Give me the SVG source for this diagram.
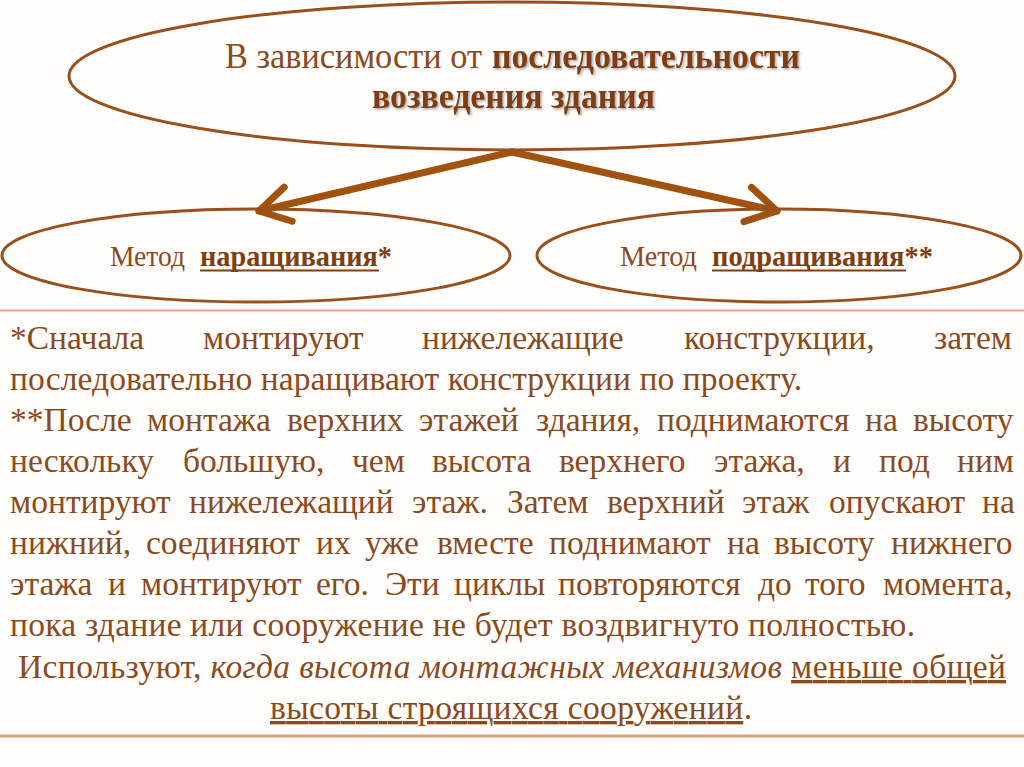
<svg xmlns="http://www.w3.org/2000/svg" width="1024" height="767" viewBox="0 0 1024 767">
<defs>
<style>
.ell{fill:none;stroke:#99501A;stroke-width:3}
.arr{fill:none;stroke:#A0520F;stroke-width:7;stroke-linecap:round;stroke-linejoin:round}
.body{font-family:"Liberation Serif","Times New Roman",serif;font-size:33.5px;fill:#8B4A1E}
.ttl{font-family:"Liberation Serif","Times New Roman",serif;font-size:35px;fill:#8B4A1E}
.lbl{font-family:"Liberation Serif","Times New Roman",serif;font-size:29px;fill:#8B4A1E}
.b{font-weight:bold;fill:#7E3E12}
.u{text-decoration:underline}
.i{font-style:italic}
.ul{stroke:#7E3E12;stroke-width:2}
</style>
<filter id="sh" x="-5%" y="-20%" width="110%" height="140%">
<feDropShadow dx="1.5" dy="1.5" stdDeviation="1" flood-color="#000" flood-opacity="0.35"/>
</filter>
<marker id="chev" markerUnits="userSpaceOnUse" orient="auto" refX="0" refY="0" markerWidth="80" markerHeight="80" viewBox="-40 -40 80 80" overflow="visible">
<path d="M-30,-17.5 L0,0 L-30,17.5" class="arr"/>
</marker>
</defs>
<rect width="1024" height="767" fill="#FFFEFC"/>

<g id="connectors">
<line class="arr" x1="512" y1="152" x2="259" y2="211" marker-end="url(#chev)"/>
<line class="arr" x1="512" y1="152" x2="777" y2="211" marker-end="url(#chev)"/>
</g>

<g id="node-top">
<ellipse class="ell" cx="512" cy="76" rx="443" ry="74"/>
<text class="ttl" x="225" y="68" textLength="257" lengthAdjust="spacingAndGlyphs">В зависимости от</text>
<text class="ttl b" x="492" y="68" textLength="308" lengthAdjust="spacingAndGlyphs" filter="url(#sh)">последовательности</text>
<text class="ttl b" x="372" y="108" textLength="283" lengthAdjust="spacingAndGlyphs" filter="url(#sh)">возведения здания</text>
</g>

<g id="node-left">
<ellipse class="ell" cx="256" cy="255.5" rx="254" ry="46.5"/>
<text class="lbl" x="110" y="266" textLength="75" lengthAdjust="spacingAndGlyphs">Метод</text>
<text class="lbl b" x="200" y="266" textLength="192" lengthAdjust="spacingAndGlyphs">наращивания*</text>
<line class="ul" x1="200" y1="270.5" x2="379" y2="270.5"/>
</g>

<g id="node-right">
<ellipse class="ell" cx="779" cy="255.5" rx="242" ry="46.5"/>
<text class="lbl" x="620" y="266" textLength="77" lengthAdjust="spacingAndGlyphs">Метод</text>
<text class="lbl b" x="712" y="266" textLength="221" lengthAdjust="spacingAndGlyphs">подращивания**</text>
<line class="ul" x1="712" y1="270.5" x2="906" y2="270.5"/>
</g>

<g id="notes">
<line x1="0" y1="310.5" x2="1024" y2="310.5" stroke="#EBA57A" stroke-width="2"/>
<line x1="0" y1="736" x2="1024" y2="736" stroke="#D6A57C" stroke-width="3"/>
<text class="body" y="349"><tspan x="10">*Сначала</tspan><tspan x="203">монтируют</tspan><tspan x="422">нижележащие</tspan><tspan x="684">конструкции,</tspan><tspan x="934">затем</tspan></text>
<text class="body" x="10" y="390" textLength="792">последовательно наращивают конструкции по проекту.</text>
<text class="body" y="431"><tspan x="10">**После</tspan><tspan x="147">монтажа</tspan><tspan x="287">верхних</tspan><tspan x="419">этажей</tspan><tspan x="536">здания,</tspan><tspan x="657">поднимаются</tspan><tspan x="865">на</tspan><tspan x="913">высоту</tspan></text>
<text class="body" y="472"><tspan x="10">нескольку</tspan><tspan x="183">большую,</tspan><tspan x="352">чем</tspan><tspan x="432">высота</tspan><tspan x="559">верхнего</tspan><tspan x="714">этажа,</tspan><tspan x="833">и</tspan><tspan x="879">под</tspan><tspan x="957">ним</tspan></text>
<text class="body" y="513"><tspan x="10">монтируют</tspan><tspan x="189">нижележащий</tspan><tspan x="412">этаж.</tspan><tspan x="507">Затем</tspan><tspan x="607">верхний</tspan><tspan x="742">этаж</tspan><tspan x="829">опускают</tspan><tspan x="982">на</tspan></text>
<text class="body" y="554"><tspan x="10">нижний,</tspan><tspan x="146">соединяют</tspan><tspan x="316">их</tspan><tspan x="365">уже</tspan><tspan x="437">вместе</tspan><tspan x="549">поднимают</tspan><tspan x="727">на</tspan><tspan x="774">высоту</tspan><tspan x="891">нижнего</tspan></text>
<text class="body" y="595"><tspan x="10">этажа</tspan><tspan x="108">и</tspan><tspan x="141">монтируют</tspan><tspan x="316">его.</tspan><tspan x="385">Эти</tspan><tspan x="454">циклы</tspan><tspan x="558">повторяются</tspan><tspan x="758">до</tspan><tspan x="805">того</tspan><tspan x="883">момента,</tspan></text>
<text class="body" x="10" y="636" textLength="905">пока здание или сооружение не будет воздвигнуто полностью.</text>
<text class="body" x="18" y="678" textLength="988">Используют, <tspan class="i">когда высота монтажных механизмов</tspan> <tspan class="u">меньше общей</tspan></text>
<text class="body" x="270" y="719" textLength="482"><tspan class="u">высоты строящихся сооружений</tspan>.</text>
</g>
</svg>
